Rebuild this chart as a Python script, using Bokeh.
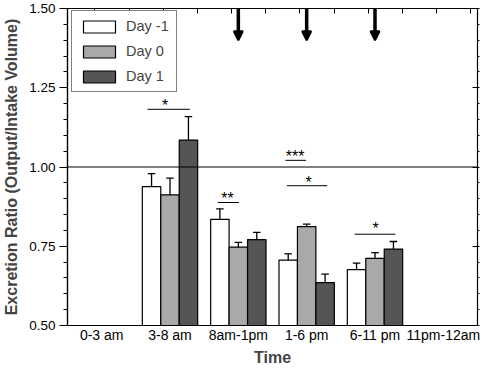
from bokeh.plotting import figure
from bokeh.models import (Range1d, LinearAxis, FixedTicker, NumeralTickFormatter, Span,
                          Arrow, NormalHead, Legend, LegendItem, ColumnDataSource)
from bokeh.core.properties import value
from bokeh.embed import file_html
from bokeh.resources import INLINE

# ---- data ----
categories = ["0-3 am", "3-8 am", "8am-1pm", "1-6 pm", "6-11 pm", "11pm-12am"]
series_names = ["Day -1", "Day 0", "Day 1"]
day_m1 = [None, 0.938, 0.835, 0.706, 0.676, None]
day_0 = [None, 0.912, 0.747, 0.812, 0.712, None]
day_1 = [None, 1.085, 0.771, 0.635, 0.741, None]
err_m1 = [None, 0.041, 0.033, 0.020, 0.021, None]
err_0 = [None, 0.053, 0.015, 0.008, 0.018, None]
err_1 = [None, 0.074, 0.023, 0.027, 0.024, None]
y_ticks = [0.50, 0.75, 1.00, 1.25, 1.50]
reference_level = 1.00
arrow_categories = ["8am-1pm", "1-6 pm", "6-11 pm"]
arrow_top = 1.50
arrow_bottom = 1.40
# significance brackets: label, x-start, x-end, line y, label x, label y
sig_labels = ["*", "**", "***", "*", "*"]
sig_x0 = [1.17, 2.20, 3.19, 3.21, 4.20]
sig_x1 = [1.79, 2.51, 3.49, 3.80, 4.80]
sig_y = [1.182, 0.888, 1.021, 0.941, 0.788]
sig_tx = [1.43, 2.34, 3.33, 3.53, 4.51]
sig_ty = [1.194, 0.900, 1.034, 0.950, 0.806]

colors = ["#ffffff", "#a9a9a9", "#555555"]
offsets = [-0.27, 0.0, 0.27]
bar_w = 0.27
cap_w = 0.055
FONT = "Liberation Sans"

W, H = 480, 368
BL, BR, BT, BB = 64, 3, 8, 40
PH = H - BT - BB

p = figure(width=W, height=H, output_backend="svg", toolbar_location=None,
           x_range=Range1d(0, 6), y_range=Range1d(0.5, 1.5),
           min_border_left=BL, min_border_right=BR, min_border_top=BT, min_border_bottom=BB)
p.xgrid.visible = False
p.ygrid.visible = False
p.outline_line_color = "black"
p.outline_line_width = 1.2
p.background_fill_color = "white"
p.border_fill_color = "white"

# bars + error bars
renderers = []
for s, (vals, errs) in enumerate([(day_m1, err_m1), (day_0, err_0), (day_1, err_1)]):
    xs, tops, ups = [], [], []
    for i, (v, e) in enumerate(zip(vals, errs)):
        if v is None:
            continue
        xs.append(i + 0.5 + offsets[s])
        tops.append(v)
        ups.append(v + e)
    src = ColumnDataSource(dict(x=xs, top=tops, up=ups,
                                cl=[x - cap_w for x in xs], cr=[x + cap_w for x in xs]))
    p.segment(x0="x", y0="top", x1="x", y1="up", source=src, line_color="black", line_width=1.3)
    p.segment(x0="cl", y0="up", x1="cr", y1="up", source=src, line_color="black", line_width=1.3)
    r = p.vbar(x="x", top="top", bottom=0.5, width=bar_w, source=src,
               fill_color=colors[s], line_color="black", line_width=1.2)
    renderers.append(r)

# reference line
p.add_layout(Span(location=reference_level, dimension="width", line_color="black", line_width=1.2))

# arrows
for c in arrow_categories:
    xi = categories.index(c) + 0.5
    p.add_layout(Arrow(end=NormalHead(size=9, fill_color="black", line_color="black", line_width=2),
                       x_start=xi, y_start=arrow_top, x_end=xi, y_end=arrow_bottom,
                       line_color="black", line_width=3.5))

# significance
p.segment(x0=sig_x0, y0=sig_y, x1=sig_x1, y1=sig_y, line_color="black", line_width=1)
p.text(x=sig_tx, y=sig_ty, text=sig_labels, text_align="center", text_baseline="alphabetic",
       text_font=value(FONT), text_font_size="16px", text_color="black")

# axes
xa = p.xaxis[0]
xa.ticker = FixedTicker(ticks=[i + 0.5 for i in range(len(categories))])
xa.major_label_overrides = {i + 0.5: c for i, c in enumerate(categories)}
xa.major_tick_line_color = None
xa.minor_tick_line_color = None
xa.major_tick_out = 0
xa.major_tick_in = 0
xa.minor_tick_out = 0
xa.major_label_standoff = 1
xa.major_label_text_font = FONT
xa.major_label_text_font_size = "14px"
xa.major_label_text_color = "black"
xa.axis_label = "Time"
xa.axis_label_text_font = FONT
xa.axis_label_text_font_size = "16px"
xa.axis_label_text_font_style = "bold"
xa.axis_label_standoff = 3
xa.axis_line_color = "black"
xa.axis_line_width = 1.2

ya = p.yaxis[0]
minor = [round(0.5 + 0.05 * k, 2) for k in range(21)]
ya.ticker = FixedTicker(ticks=y_ticks, minor_ticks=minor)
ya.formatter = NumeralTickFormatter(format="0.00")
ya.major_tick_out = 8
ya.major_tick_in = 0
ya.minor_tick_out = 4
ya.minor_tick_in = 0
ya.major_tick_line_color = "black"
ya.minor_tick_line_color = "black"
ya.major_label_standoff = 4
ya.major_label_text_font = FONT
ya.major_label_text_font_size = "13.5px"
ya.major_label_text_color = "black"
ya.axis_label = "Excretion Ratio (Output/Intake Volume)"
ya.axis_label_text_font = FONT
ya.axis_label_text_font_size = "16px"
ya.axis_label_text_font_style = "bold"
ya.axis_label_standoff = 6
ya.axis_line_color = "black"
ya.axis_line_width = 1.2

ra = LinearAxis(ticker=FixedTicker(ticks=y_ticks, minor_ticks=minor),
                major_label_text_font_size="0px", major_tick_in=5, major_tick_out=0,
                minor_tick_in=0, minor_tick_out=2, axis_line_color="black",
                major_tick_line_color="black", minor_tick_line_color="black",
                major_label_standoff=0)
ra.major_label_text_color = None
p.add_layout(ra, "right")

top_ticks = [0.4 + 0.5 * k for k in range(12)]
ta = LinearAxis(ticker=FixedTicker(ticks=top_ticks), major_tick_in=5, major_tick_out=0,
                minor_tick_line_color=None, minor_tick_out=0, axis_line_color="black",
                major_tick_line_color="black", major_label_text_font_size="0px",
                major_label_standoff=0)
ta.major_label_text_color = None
p.add_layout(ta, "above")

LH = 78
legend = Legend(items=[LegendItem(label=n, renderers=[r]) for n, r in zip(series_names, renderers)],
                location=(4, PH - 9 - LH), glyph_width=40, glyph_height=15, label_height=15,
                label_standoff=7, spacing=9, padding=7, margin=0,
                label_text_font=FONT, label_text_font_size="14.5px",
                border_line_color="black", border_line_width=1.2,
                background_fill_color="white", background_fill_alpha=1.0)
p.add_layout(legend, "center")

open("out.html", "w").write(file_html(p, INLINE))
